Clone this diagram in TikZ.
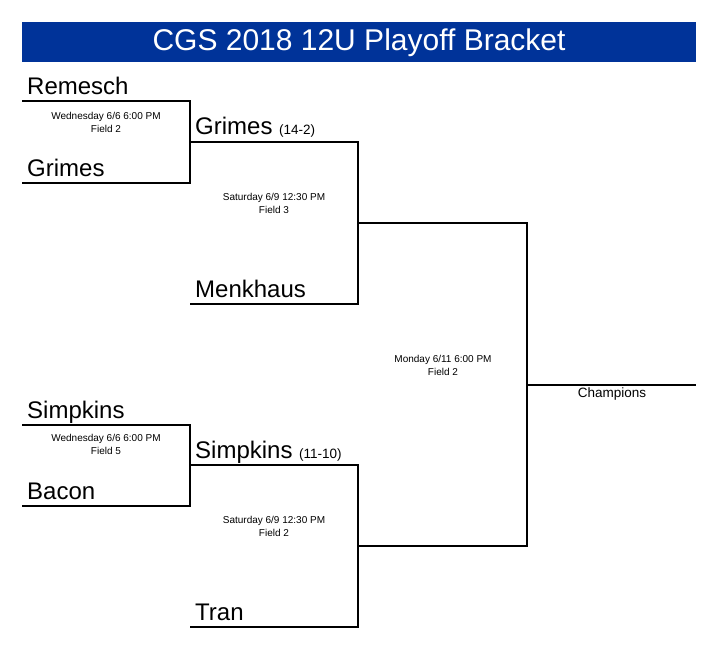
\documentclass[tikz,border=0pt]{standalone}
\usepackage{fontspec}
\setmainfont{Liberation Sans}
\usepackage{xcolor}
\usetikzlibrary{positioning}
\definecolor{cgsblue}{RGB}{0,51,153}
\newcommand{\scoresize}{\fontsize{13.5}{15}\selectfont}

\begin{document}
\begin{tikzpicture}[x=1pt,y=-1pt]
\tikzstyle{every node}+=[inner sep=0pt]
\tikzstyle{team}=[anchor=base west,font=\fontsize{24}{26}\selectfont]
\tikzstyle{game}=[align=center,font=\fontsize{10}{13}\selectfont]
\tikzstyle{bline}=[line width=1.3pt]
\useasboundingbox (0,0) rectangle (720,658);
% header
\fill [cgsblue] (22,22) rectangle (696,62);
\node [text=white,font=\fontsize{30}{32}\selectfont] (title) at (359,43) {CGS 2018 12U Playoff Bracket};
% first round
\coordinate (a1) at (22,101);
\coordinate (a2) at (22,183);
\coordinate (b1) at (22,425);
\coordinate (b2) at (22,506);
\coordinate (aw) at (190,142);
\coordinate (am) at (190,304);
\coordinate (bw) at (190,465);
\coordinate (bt) at (190,627);
\coordinate (sa) at (358,223);
\coordinate (sb) at (358,546);
\coordinate (fin) at (527,385);
\coordinate (champ) at (696,385);
\draw [bline] (a1) -| (aw) -- ++(0,41) -| (a2);
\draw [bline] (b1) -| (bw) -- ++(0,41) -| (b2);
\draw [bline] (aw) -| (sa) -- ++(0,81) -| (am);
\draw [bline] (bw) -| (sb) -- ++(0,81) -| (bt);
\draw [bline] (sa) -| (fin) -- ++(0,161) -| (sb);
\draw [bline] (fin) -- (champ);
% names
\node [team] (remesch) at (27,95) {Remesch};
\node [team] (grimes) at (27,176) {Grimes};
\node [team] (grimesw) at (195,135) {Grimes {\scoresize(14-2)}};
\node [team] (menkhaus) at (195,297) {Menkhaus};
\node [team] (simpkins) at (27,418) {Simpkins};
\node [team] (bacon) at (27,499) {Bacon};
\node [team] (simpkinsw) at (195,458) {Simpkins {\scoresize(11-10)}};
\node [team] (tran) at (195,620) {Tran};
% games
\node [game] (g1) at (106,122) {Wednesday 6/6 6:00 PM\\Field 2};
\node [game] (g2) at (106,444) {Wednesday 6/6 6:00 PM\\Field 5};
\node [game] (g3) at (274,203) {Saturday 6/9 12:30 PM\\Field 3};
\node [game] (g4) at (274,526) {Saturday 6/9 12:30 PM\\Field 2};
\node [game] (g5) at (443,365) {Monday 6/11 6:00 PM\\Field 2};
\node [font=\fontsize{13.5}{15}\selectfont] (champions) at (612,394) {Champions};
\end{tikzpicture}
\end{document}
